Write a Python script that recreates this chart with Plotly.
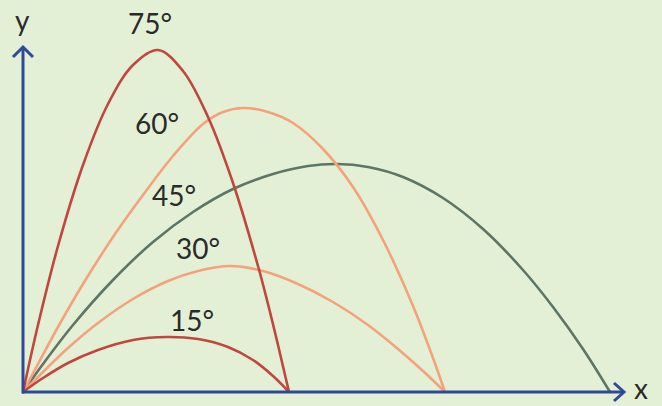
import plotly.graph_objects as go

# Trajectories for each launch angle: horizontal distance and height samples
angle_labels = ["75°", "60°", "45°", "30°", "15°"]

x75 = [0, 15, 35, 60, 85, 110, 135, 160, 185, 210, 235, 246, 255, 266]
y75 = [0, 67, 146, 227, 288, 327, 342, 321, 275, 209, 126, 84, 47, 0]

x60 = [0, 15, 35, 60, 90, 120, 150, 180, 200, 220, 245, 270, 300, 330, 360, 390, 410, 422]
y60 = [0, 28, 65, 108, 155, 197, 236, 268, 280, 284, 280, 269, 243, 205, 152, 86, 34, 0]

x45 = [0, 20, 50, 90, 130, 170, 210, 250, 285, 314, 345, 380, 420, 460, 500, 530, 560, 587]
y45 = [0, 28, 67, 112, 150, 180, 203, 218, 226, 228, 225, 215, 194, 163, 122, 85, 43, 0]

x30 = [0, 20, 45, 75, 110, 145, 175, 207, 240, 275, 310, 345, 375, 400, 422]
y30 = [0, 20, 44, 69, 93, 111, 121, 126, 121, 108, 90, 67, 43, 21, 0]

x15 = [0, 20, 45, 75, 110, 144, 175, 205, 230, 250, 266]
y15 = [0, 14, 29, 42, 52, 55, 53, 45, 32, 16, 0]

# Where each angle label sits
label_x = [127, 134, 151, 175, 169]
label_y = [369, 269, 197, 144, 72]

# Axis extents
x_axis_end = 601
y_axis_end = 345

BG = "#e4f0d6"
RED = "#c0473d"
SALMON = "#f5a27c"
GREY = "#5e7565"
BLUE = "#2b4a9b"
INK = "#2a2a2a"
FONT = "Lato"

fig = go.Figure()

# Draw order: grey under salmon under red
curves = [
    (x45, y45, GREY),
    (x60, y60, SALMON),
    (x30, y30, SALMON),
    (x75, y75, RED),
    (x15, y15, RED),
]
for xs, ys, col in curves:
    fig.add_trace(go.Scatter(
        x=xs, y=ys, mode="lines",
        line=dict(color=col, width=2.6, shape="spline", smoothing=1.0),
        hoverinfo="skip", showlegend=False,
    ))

# Axes with open arrowheads
fig.add_trace(go.Scatter(
    x=[-1, x_axis_end], y=[0, 0], mode="lines",
    line=dict(color=BLUE, width=3), hoverinfo="skip", showlegend=False))
fig.add_trace(go.Scatter(
    x=[0, 0], y=[-1.5, y_axis_end], mode="lines",
    line=dict(color=BLUE, width=3), hoverinfo="skip", showlegend=False))
fig.add_trace(go.Scatter(
    x=[x_axis_end - 10, x_axis_end, x_axis_end - 10], y=[9, 0, -9], mode="lines",
    line=dict(color=BLUE, width=3), hoverinfo="skip", showlegend=False))
fig.add_trace(go.Scatter(
    x=[-10, 0, 10], y=[y_axis_end - 10, y_axis_end, y_axis_end - 10], mode="lines",
    line=dict(color=BLUE, width=3), hoverinfo="skip", showlegend=False))

for txt, lx, ly in zip(angle_labels, label_x, label_y):
    fig.add_annotation(x=lx, y=ly, text=txt, showarrow=False,
                       font=dict(family=FONT, size=28, color=INK),
                       xanchor="center", yanchor="middle")

fig.add_annotation(x=-1, y=372, text="y", showarrow=False,
                   font=dict(family=FONT, size=28, color=INK),
                   xanchor="center", yanchor="middle")
fig.add_annotation(x=618, y=4, text="x", showarrow=False,
                   font=dict(family=FONT, size=28, color=INK),
                   xanchor="center", yanchor="middle")

fig.update_layout(
    width=662, height=406,
    margin=dict(l=0, r=0, t=0, b=0),
    paper_bgcolor=BG, plot_bgcolor=BG,
    xaxis=dict(range=[-23, 639], visible=False, fixedrange=True),
    yaxis=dict(range=[-14, 392], visible=False, fixedrange=True),
    showlegend=False,
)

fig.write_html("out.html", config={"displayModeBar": False})
